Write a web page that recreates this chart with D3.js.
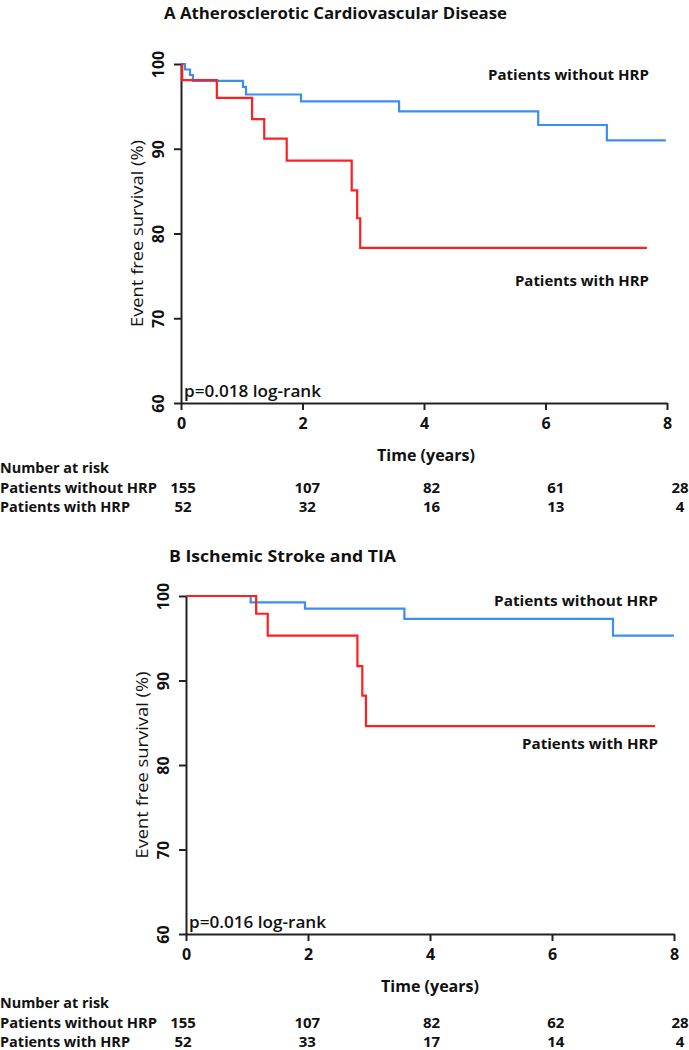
<!DOCTYPE html>
<html>
<head>
<meta charset="utf-8">
<script src="https://cdn.jsdelivr.net/npm/d3@7"></script>
<style>
  html, body { margin: 0; padding: 0; background: #fff; }
  svg { display: block; }
  text { font-family: "Open Sans", Lato, "Liberation Sans", sans-serif; fill: #111; }
</style>
</head>
<body>
<svg id="chart" width="689" height="1050"></svg>
<script>
// ---------- data ----------
const timeTicks = [0, 2, 4, 6, 8];
const survTicks = [60, 70, 80, 90, 100];
const riskLabels = ["Number at risk", "Patients without HRP", "Patients with HRP"];
const seriesNames = ["Patients without HRP", "Patients with HRP"];

const titleA = "A Atherosclerotic Cardiovascular Disease";
const pValueA = "p=0.018 log-rank";
const timeA_noHRP = [0, 0.066, 0.148, 0.197, 1.02, 1.07, 1.975, 3.59, 5.88, 7.01, 7.98];
const survA_noHRP = [100, 99.35, 98.7, 98.0, 97.3, 96.4, 95.6, 94.4, 92.8, 91.0, 91.0];
const timeA_HRP = [0, 0.02, 0.59, 1.17, 1.37, 1.74, 2.81, 2.90, 2.95, 7.67];
const survA_HRP = [100, 98.1, 96.0, 93.5, 91.2, 88.6, 85.1, 81.8, 78.3, 78.3];
const riskA_noHRP = [155, 107, 82, 61, 28];
const riskA_HRP = [52, 32, 16, 13, 4];

const titleB = "B Ischemic Stroke and TIA";
const pValueB = "p=0.016 log-rank";
const timeB_noHRP = [0, 1.06, 1.95, 3.58, 7.0, 8.0];
const survB_noHRP = [100, 99.25, 98.5, 97.3, 95.3, 95.3];
const timeB_HRP = [0, 1.15, 1.34, 2.81, 2.89, 2.95, 7.69];
const survB_HRP = [100, 97.9, 95.3, 91.7, 88.2, 84.6, 84.6];
const riskB_noHRP = [155, 107, 82, 62, 28];
const riskB_HRP = [52, 33, 17, 14, 4];

// ---------- drawing ----------
const svg = d3.select("#chart");
const BLUE = "#3a8ff0", RED = "#ff1f1f";
const FONT = "'Open Sans', Lato, sans-serif";

function fitText(sel, width) {
  return sel.attr("textLength", width).attr("lengthAdjust", "spacingAndGlyphs");
}

function panel(cfg) {
  const g = svg.append("g");
  const x = d3.scaleLinear().domain([0, 8]).range([cfg.x0, cfg.x1]);
  const y = d3.scaleLinear().domain([60, 100]).range([cfg.y0, cfg.y1]);
  const xr = d3.scaleLinear().domain([0, 8]).range([cfg.r0, cfg.r1]);

  // title
  fitText(g.append("text").attr("x", cfg.titleX).attr("y", cfg.titleY)
    .attr("font-size", 16.5).attr("font-weight", 700).text(cfg.title), cfg.titleW);

  // axes
  const xAxis = g.append("g").attr("transform", `translate(0,${cfg.y0})`)
    .call(d3.axisBottom(x).tickValues(timeTicks).tickSize(7).tickSizeOuter(0).tickFormat(d3.format("d")));
  xAxis.select(".domain").attr("stroke", "#222").attr("stroke-width", 2);
  xAxis.selectAll(".tick line").attr("stroke", "#222").attr("stroke-width", 2);
  xAxis.selectAll(".tick text").attr("font-size", 16).attr("font-weight", 700)
    .attr("font-family", FONT).attr("fill", "#111").attr("dy", "1.0em");

  const yAxis = g.append("g").attr("transform", `translate(${cfg.x0},0)`)
    .call(d3.axisLeft(y).tickValues(survTicks).tickSize(7).tickSizeOuter(0).tickFormat(d3.format("d")));
  yAxis.select(".domain").attr("stroke", "#222").attr("stroke-width", 2);
  yAxis.selectAll(".tick line").attr("stroke", "#222").attr("stroke-width", 2);
  yAxis.selectAll(".tick text").remove();
  yAxis.selectAll(".tick").append("text")
    .attr("transform", "translate(-23,0) rotate(-90)")
    .attr("text-anchor", "middle").attr("dy", "0.36em")
    .attr("font-size", 16).attr("font-weight", 700)
    .attr("font-family", FONT).attr("fill", "#111")
    .text(d => d);

  // axis titles
  fitText(g.append("text")
    .attr("transform", `translate(${cfg.x0 - 44},${(cfg.y0 + cfg.y1) / 2}) rotate(-90)`)
    .attr("text-anchor", "middle").attr("dy", "0.36em")
    .attr("font-size", 17).attr("font-weight", 500).text("Event free survival (%)"), 187);
  fitText(g.append("text").attr("x", cfg.timeX).attr("y", cfg.y0 + 58)
    .attr("text-anchor", "middle").attr("font-size", 16).attr("font-weight", 700)
    .text("Time (years)"), 98);

  // curves
  const line = d3.line().x(d => x(d[0])).y(d => y(d[1])).curve(d3.curveStepAfter);
  const drawCurve = (ts, ss, color) => {
    g.append("path").datum(ts.map((t, i) => [t, ss[i]]))
      .attr("d", line).attr("fill", "none").attr("stroke", color).attr("stroke-width", 2.2);
  };
  drawCurve(cfg.tNo, cfg.sNo, BLUE);
  drawCurve(cfg.tHrp, cfg.sHrp, RED);

  // curve labels
  fitText(g.append("text").attr("x", cfg.labEnd).attr("y", cfg.labNoY).attr("text-anchor", "end")
    .attr("font-size", 15).attr("font-weight", 700).text(seriesNames[0]), cfg.labNoW);
  fitText(g.append("text").attr("x", cfg.labEnd).attr("y", cfg.labHrpY).attr("text-anchor", "end")
    .attr("font-size", 15).attr("font-weight", 700).text(seriesNames[1]), cfg.labHrpW);

  // p value
  fitText(g.append("text").attr("x", cfg.x0 + 3).attr("y", cfg.y0 - 6)
    .attr("font-size", 16).attr("font-weight", 600).text(cfg.p), 137);

  // number at risk table
  const rows = [cfg.tableY, cfg.tableY + 20, cfg.tableY + 39];
  const labW = [109, 157, 130];
  riskLabels.forEach((lab, i) => {
    fitText(g.append("text").attr("x", 0).attr("y", rows[i])
      .attr("font-size", 15).attr("font-weight", 700).text(lab), labW[i]);
  });
  [cfg.riskNo, cfg.riskHrp].forEach((vals, r) => {
    g.selectAll(null).data(vals).enter().append("text")
      .attr("x", (d, i) => xr(timeTicks[i])).attr("y", rows[r + 1])
      .attr("text-anchor", "middle").attr("font-size", 15).attr("font-weight", 700)
      .text(d => d);
  });
}

panel({
  title: titleA, titleX: 164, titleY: 19, titleW: 343,
  x0: 181, x1: 667, y0: 403, y1: 64, r0: 183, r1: 680,
  tNo: timeA_noHRP, sNo: survA_noHRP, tHrp: timeA_HRP, sHrp: survA_HRP,
  labEnd: 649, labNoY: 80, labHrpY: 286, labNoW: 161, labHrpW: 134,
  p: pValueA, timeX: 426, tableY: 473,
  riskNo: riskA_noHRP, riskHrp: riskA_HRP
});
panel({
  title: titleB, titleX: 169, titleY: 562, titleW: 227,
  x0: 186, x1: 674, y0: 934, y1: 596, r0: 183, r1: 680,
  tNo: timeB_noHRP, sNo: survB_noHRP, tHrp: timeB_HRP, sHrp: survB_HRP,
  labEnd: 658, labNoY: 606, labHrpY: 749, labNoW: 164, labHrpW: 136,
  p: pValueB, timeX: 430, tableY: 1008,
  riskNo: riskB_noHRP, riskHrp: riskB_HRP
});
</script>
</body>
</html>
